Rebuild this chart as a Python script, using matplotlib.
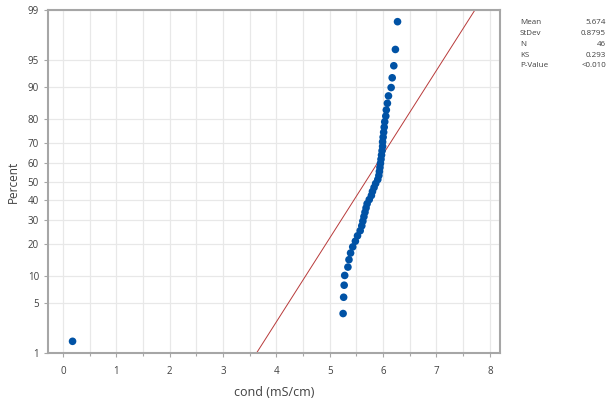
import numpy as np
import matplotlib
matplotlib.use("Agg")
import matplotlib.pyplot as plt
from matplotlib.ticker import FixedLocator, MultipleLocator
from statistics import NormalDist

# conductivity readings (mS/cm)
cond = [0.18,
        5.25, 5.26, 5.28, 5.27, 5.34, 5.36, 5.39, 5.43, 5.48, 5.52,
        5.57, 5.60, 5.62, 5.64, 5.66, 5.68, 5.70, 5.74, 5.78, 5.80,
        5.83, 5.86, 5.90, 5.92, 5.93, 5.94, 5.95, 5.96, 5.97, 5.98,
        5.99, 5.99, 6.00, 6.01, 6.02, 6.03, 6.05, 6.06, 6.08, 6.10,
        6.15, 6.17, 6.20, 6.23, 6.27]

# summary shown in the stats box
mean = 5.674
stdev = 0.8795
stat_names = ["Mean", "StDev", "N", "KS", "P-Value"]
stat_values = ["5.674", "0.8795", "46", "0.293", "<0.010"]

pct_ticks = [1, 5, 10, 20, 30, 40, 50, 60, 70, 80, 90, 95, 99]
x_ticks = [0, 1, 2, 3, 4, 5, 6, 7, 8]

nd = NormalDist()
_ppf = np.vectorize(lambda p: nd.inv_cdf(min(max(p / 100.0, 1e-9), 1 - 1e-9)), otypes=[float])
_cdf = np.vectorize(lambda z: nd.cdf(z) * 100.0, otypes=[float])

def fwd(p):
    return _ppf(np.asarray(p, dtype=float))

def inv(z):
    return _cdf(np.asarray(z, dtype=float))

# median ranks like Minitab
x = np.sort(np.array(cond))
n = len(x)
pos = (np.arange(1, n + 1) - 0.3) / (n + 0.4) * 100

plt.rcParams['font.family'] = ['Open Sans', 'DejaVu Sans']

fig = plt.figure(figsize=(6.08, 4.03), dpi=100)
ax = fig.add_axes([48/608, 1 - 353/403, 452/608, 343/403])
ax.set_yscale('function', functions=(fwd, inv))

# fitted normal line
p_line = np.array([1, 99])
x_line = np.array([mean + stdev * nd.inv_cdf(p / 100) for p in p_line])
ax.plot(x_line, p_line, color='#b83a3a', lw=0.7, zorder=2)

ax.scatter(x, pos, s=30, color='#0052a5', edgecolors='none', zorder=3)

ax.set_xlim(-0.28, 8.19)
ax.set_ylim(1, 99)
ax.yaxis.set_major_locator(FixedLocator(pct_ticks))
ax.yaxis.set_minor_locator(FixedLocator([]))
ax.set_yticklabels([str(t) for t in pct_ticks])
ax.set_xticks(x_ticks)
ax.xaxis.set_minor_locator(MultipleLocator(0.5))

ax.grid(True, which='major', color='#e8e8e8', lw=0.9)
ax.grid(True, which='minor', axis='x', color='#e8e8e8', lw=0.9)
ax.set_axisbelow(True)

for s in ax.spines.values():
    s.set_color('#a6a6a6')
    s.set_linewidth(1.5)

ax.tick_params(which='both', colors='#a6a6a6', labelcolor='#404040',
               labelsize=7, length=3, width=0.8)
ax.tick_params(which='minor', length=2)
ax.tick_params(axis='x', pad=6)

ax.set_xlabel('cond (mS/cm)', fontsize=9, color='#404040', labelpad=7)
ax.set_ylabel('Percent', fontsize=8.5, color='#404040', labelpad=6)

for k, (nm, val) in enumerate(zip(stat_names, stat_values)):
    yy = 1 - (23 + k * 10.7) / 403
    fig.text(520/608, yy, nm, fontsize=5.8, color='#404040', va='center', ha='left')
    fig.text(606/608, yy, val, fontsize=5.8, color='#404040', va='center', ha='right')

fig.savefig('out.png', dpi=100)
